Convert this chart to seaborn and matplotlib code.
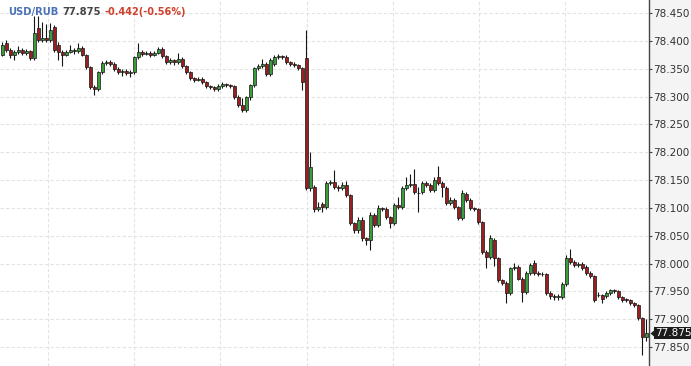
import matplotlib
matplotlib.use("Agg")
import matplotlib.pyplot as plt
import matplotlib.transforms as mtransforms
import seaborn as sns
import numpy as np
import pandas as pd

# ---------------- data ----------------
opens = [
    78.375, 78.396, 78.384, 78.375, 78.380, 78.384, 78.379, 78.381, 78.369, 78.423,
    78.401, 78.405, 78.401, 78.425, 78.393, 78.380, 78.375, 78.380, 78.384, 78.381,
    78.388, 78.375, 78.353, 78.317, 78.314, 78.344, 78.360, 78.362, 78.359, 78.350,
    78.344, 78.346, 78.342, 78.344, 78.371, 78.380, 78.377, 78.379, 78.375, 78.379,
    78.386, 78.373, 78.362, 78.366, 78.362, 78.368, 78.355, 78.344, 78.333, 78.330,
    78.332, 78.326, 78.319, 78.317, 78.314, 78.319, 78.323, 78.321, 78.319, 78.299,
    78.285, 78.276, 78.299, 78.321, 78.351, 78.355, 78.359, 78.341, 78.359, 78.371,
    78.373, 78.371, 78.362, 78.359, 78.357, 78.351, 78.369, 78.135, 78.138, 78.098,
    78.107, 78.101, 78.145, 78.146, 78.137, 78.135, 78.141, 78.123, 78.072, 78.060,
    78.079, 78.045, 78.042, 78.087, 78.069, 78.099, 78.098, 78.083, 78.072, 78.105,
    78.101, 78.135, 78.141, 78.143, 78.127, 78.128, 78.145, 78.141, 78.132, 78.155,
    78.145, 78.135, 78.108, 78.114, 78.101, 78.081, 78.125, 78.114, 78.099, 78.098,
    78.074, 78.020, 78.011, 78.042, 78.010, 77.970, 77.965, 77.947, 77.992, 77.993,
    77.973, 77.948, 77.983, 78.001, 77.983, 77.982, 77.981, 77.947, 77.941, 77.939,
    77.939, 77.963, 78.010, 78.003, 77.997, 77.999, 77.994, 77.983, 77.977, 77.944,
    77.943, 77.941, 77.947, 77.952, 77.950, 77.939, 77.936, 77.934, 77.929, 77.925,
    77.902, 77.868,
]
highs = [
    78.398, 78.402, 78.388, 78.384, 78.390, 78.388, 78.385, 78.384, 78.444, 78.444,
    78.434, 78.430, 78.432, 78.428, 78.398, 78.384, 78.384, 78.392, 78.388, 78.396,
    78.391, 78.377, 78.355, 78.320, 78.346, 78.364, 78.366, 78.366, 78.362, 78.353,
    78.350, 78.349, 78.347, 78.373, 78.396, 78.384, 78.382, 78.382, 78.382, 78.389,
    78.389, 78.375, 78.369, 78.368, 78.378, 78.371, 78.357, 78.346, 78.335, 78.335,
    78.335, 78.328, 78.321, 78.319, 78.322, 78.326, 78.325, 78.323, 78.321, 78.303,
    78.298, 78.301, 78.323, 78.353, 78.358, 78.368, 78.362, 78.369, 78.375, 78.377,
    78.375, 78.374, 78.364, 78.362, 78.359, 78.353, 78.419, 78.200, 78.141, 78.110,
    78.110, 78.148, 78.150, 78.168, 78.141, 78.146, 78.148, 78.125, 78.075, 78.083,
    78.083, 78.048, 78.092, 78.090, 78.105, 78.102, 78.101, 78.085, 78.108, 78.119,
    78.139, 78.155, 78.161, 78.170, 78.137, 78.148, 78.148, 78.145, 78.155, 78.175,
    78.148, 78.139, 78.119, 78.117, 78.103, 78.132, 78.128, 78.117, 78.101, 78.100,
    78.076, 78.024, 78.051, 78.045, 78.012, 77.972, 77.968, 77.994, 78.001, 77.997,
    77.976, 77.986, 78.001, 78.006, 77.986, 77.985, 77.983, 77.950, 77.945, 77.945,
    77.967, 78.015, 78.026, 78.006, 78.003, 78.002, 77.997, 77.986, 77.979, 77.948,
    77.946, 77.950, 77.955, 77.954, 77.953, 77.941, 77.938, 77.936, 77.931, 77.927,
    77.904, 77.900,
]
lows = [
    78.372, 78.380, 78.370, 78.366, 78.377, 78.375, 78.374, 78.366, 78.366, 78.398,
    78.398, 78.398, 78.398, 78.380, 78.366, 78.354, 78.372, 78.378, 78.377, 78.379,
    78.372, 78.350, 78.314, 78.303, 78.310, 78.341, 78.357, 78.355, 78.346, 78.341,
    78.337, 78.339, 78.335, 78.341, 78.368, 78.373, 78.374, 78.371, 78.372, 78.376,
    78.370, 78.359, 78.359, 78.357, 78.359, 78.352, 78.341, 78.330, 78.326, 78.327,
    78.323, 78.315, 78.313, 78.310, 78.310, 78.316, 78.318, 78.316, 78.296, 78.281,
    78.272, 78.272, 78.294, 78.318, 78.348, 78.352, 78.337, 78.337, 78.355, 78.368,
    78.368, 78.359, 78.355, 78.353, 78.348, 78.312, 78.132, 78.130, 78.092, 78.094,
    78.092, 78.098, 78.141, 78.134, 78.130, 78.132, 78.119, 78.069, 78.055, 78.055,
    78.040, 78.033, 78.024, 78.065, 78.065, 78.094, 78.080, 78.063, 78.069, 78.098,
    78.098, 78.132, 78.138, 78.125, 78.092, 78.125, 78.137, 78.128, 78.128, 78.141,
    78.119, 78.105, 78.105, 78.098, 78.078, 78.078, 78.110, 78.096, 78.094, 78.071,
    78.017, 77.992, 78.008, 77.995, 77.967, 77.961, 77.929, 77.943, 77.988, 77.970,
    77.931, 77.945, 77.979, 77.979, 77.978, 77.977, 77.943, 77.936, 77.934, 77.935,
    77.936, 77.960, 77.999, 77.993, 77.994, 77.988, 77.979, 77.974, 77.931, 77.939,
    77.929, 77.938, 77.944, 77.947, 77.936, 77.930, 77.931, 77.926, 77.921, 77.899,
    77.836, 77.861,
]
closes = [
    78.393, 78.384, 78.375, 78.380, 78.384, 78.379, 78.381, 78.369, 78.414, 78.401,
    78.405, 78.401, 78.419, 78.384, 78.380, 78.375, 78.380, 78.384, 78.381, 78.388,
    78.375, 78.353, 78.317, 78.314, 78.344, 78.360, 78.362, 78.359, 78.350, 78.344,
    78.346, 78.342, 78.344, 78.371, 78.380, 78.377, 78.379, 78.375, 78.379, 78.386,
    78.373, 78.362, 78.366, 78.362, 78.368, 78.355, 78.344, 78.333, 78.330, 78.332,
    78.326, 78.319, 78.317, 78.314, 78.319, 78.323, 78.321, 78.319, 78.299, 78.285,
    78.276, 78.299, 78.321, 78.351, 78.355, 78.359, 78.341, 78.366, 78.371, 78.373,
    78.371, 78.362, 78.359, 78.357, 78.351, 78.326, 78.135, 78.173, 78.098, 78.101,
    78.101, 78.145, 78.146, 78.137, 78.135, 78.141, 78.123, 78.072, 78.060, 78.079,
    78.045, 78.042, 78.087, 78.069, 78.099, 78.098, 78.083, 78.072, 78.105, 78.101,
    78.135, 78.141, 78.143, 78.128, 78.126, 78.145, 78.141, 78.132, 78.150, 78.145,
    78.137, 78.108, 78.115, 78.101, 78.081, 78.126, 78.114, 78.099, 78.098, 78.074,
    78.020, 78.011, 78.045, 78.010, 77.970, 77.965, 77.947, 77.992, 77.993, 77.973,
    77.948, 77.983, 77.997, 77.983, 77.982, 77.981, 77.947, 77.941, 77.939, 77.941,
    77.963, 78.010, 78.003, 77.997, 77.999, 77.992, 77.983, 77.977, 77.934, 77.943,
    77.936, 77.947, 77.952, 77.950, 77.939, 77.934, 77.934, 77.929, 77.925, 77.902,
    77.868, 77.875,
]
y_ticks = [77.85, 77.90, 77.95, 78.00, 78.05, 78.10, 78.15, 78.20,
           78.25, 78.30, 78.35, 78.40, 78.45]
y_tick_labels = ["77.850", "77.900", "77.950", "78.000", "78.050", "78.100", "78.150",
                 "78.200", "78.250", "78.300", "78.350", "78.400", "78.450"]
symbol = "USD/RUB"
last_price = "77.875"
change_text = "-0.442(-0.56%)"

# ---------------- drawing ----------------
sns.set_theme(style="white")
plt.rcParams["font.family"] = ["DejaVu Sans"]

W, H = 691, 366
AX_W = 649
fig = plt.figure(figsize=(W / 100, H / 100), dpi=100, facecolor="#f4f4f4")
ax = fig.add_axes([0, 0, AX_W / W, 1])
ax.set_facecolor("white")

df = pd.DataFrame({"open": opens, "high": highs, "low": lows, "close": closes})
df["idx"] = np.arange(len(df))
up = df["close"] >= df["open"]
body_colors = np.where(up, "#3c9b3c", "#9a1f22")
bottom = np.minimum(df["open"], df["close"])
height = np.maximum((df["close"] - df["open"]).abs(), 0.0006)

ax.vlines(df["idx"], df["low"], df["high"], color="#151515", lw=0.8, zorder=2)
ax.bar(df["idx"], height, bottom=bottom, width=0.75, color=body_colors,
       edgecolor="#151515", linewidth=0.5, zorder=3)

# grid
ax.set_xticks([11.5, 33, 54.5, 76.25, 97.75, 119.25, 140.75])
ax.set_xticklabels([])
ax.tick_params(axis="x", length=0)
ax.grid(True, axis="both", color="#e3e3e3", linestyle=(0, (3, 2)), linewidth=0.8, zorder=0)
ax.set_axisbelow(True)

ax.set_xlim(-0.5, 161.75)
ax.set_ylim(77.8159, 78.4734)

ax.yaxis.tick_right()
ax.set_yticks(y_ticks)
ax.set_yticklabels(y_tick_labels)
ax.tick_params(axis="y", direction="out", length=2.2, width=0.8, color="#444444",
               labelsize=7.5, labelcolor="#333333", pad=0.6, right=True, left=False)
for s in ["top", "left", "bottom"]:
    ax.spines[s].set_visible(False)
ax.spines["right"].set_color("#444444")
ax.spines["right"].set_linewidth(1.0)

# header text
t1 = ax.text(8 / AX_W, 1 - 12 / H, symbol, transform=ax.transAxes, color="#4b72b8",
             fontsize=7.2, fontweight="bold", va="center", ha="left")
t2 = ax.annotate(last_price, xy=(1, 0.5), xycoords=t1, xytext=(3, 0),
                 textcoords="offset points", color="#454545", fontsize=7.2,
                 fontweight="bold", va="center", ha="left")
t3 = ax.annotate(change_text, xy=(1, 0.5), xycoords=t2, xytext=(2.5, 0),
                 textcoords="offset points", color="#d0402c", fontsize=7.0,
                 fontweight="bold", va="center", ha="left")

# last price tag (pointer + dark box)
blend = mtransforms.blended_transform_factory(ax.transAxes, ax.transData)
ax.plot([652.6 / AX_W], [closes[-1]], transform=blend, clip_on=False, zorder=10,
        marker=[(-0.6, 0), (0.6, 1), (0.6, -1)], markersize=7.2,
        color="#1c1c1c", markeredgewidth=0)
ax.text(655 / AX_W, closes[-1], last_price, transform=blend, ha="left", va="center",
        color="white", fontsize=7.5, clip_on=False, zorder=11,
        bbox=dict(boxstyle="square,pad=0.12", fc="#1c1c1c", ec="none"))

fig.savefig("out.png", dpi=100, facecolor=fig.get_facecolor())
